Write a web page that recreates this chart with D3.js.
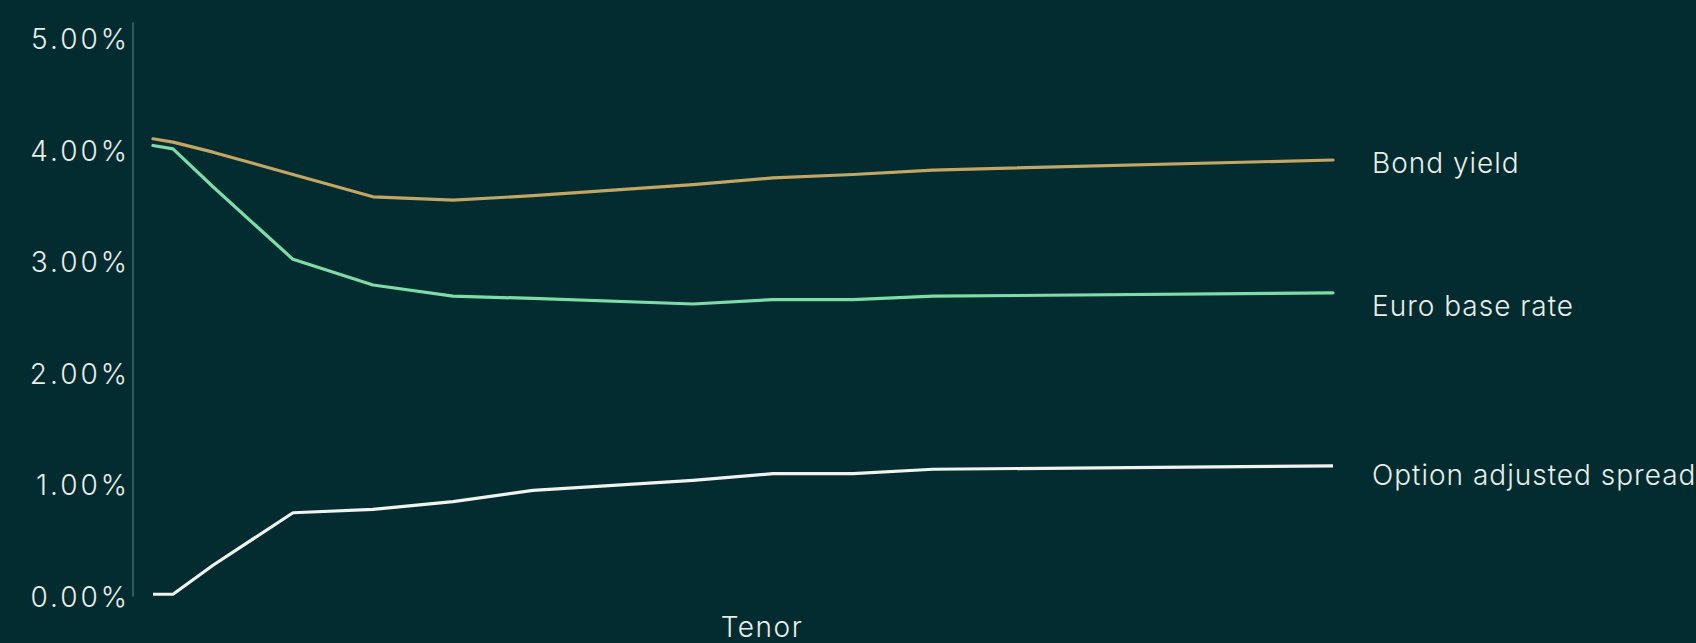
<!DOCTYPE html>
<html>
<head>
<meta charset="utf-8">
<script src="https://cdn.jsdelivr.net/npm/d3@7"></script>
<style>
  html, body { margin: 0; padding: 0; background: #022c2f; }
  svg { display: block; }
  text { font-family: Inter, "Open Sans", sans-serif; font-weight: 300; fill: #e9eee9; }
</style>
</head>
<body>
<svg id="chart" width="1696" height="643"></svg>
<script>
// Tenor in years
const tenors = [0.5, 1, 2, 4, 6, 8, 10, 14, 16, 18, 20, 30];

// Rates in percent
const bondYield = [4.10, 4.07, 3.98, 3.78, 3.58, 3.55, 3.59, 3.69, 3.75, 3.78, 3.82, 3.91];
const euroBaseRate = [4.04, 4.01, 3.67, 3.02, 2.79, 2.69, 2.67, 2.62, 2.66, 2.66, 2.69, 2.72];
const optionAdjustedSpread = [0.02, 0.02, 0.28, 0.75, 0.78, 0.85, 0.95, 1.04, 1.10, 1.10, 1.14, 1.17];

const seriesNames = ["Bond yield", "Euro base rate", "Option adjusted spread"];
const yTicks = [0, 1, 2, 3, 4, 5];
const xAxisTitle = "Tenor";

const series = [
  { name: seriesNames[0], values: bondYield, color: "#c4a664", cap: "round", labelDy: 2.5 },
  { name: seriesNames[1], values: euroBaseRate, color: "#7ddca8", cap: "round", labelDy: 13.5 },
  { name: seriesNames[2], values: optionAdjustedSpread, color: "#f1f4ee", cap: "butt", labelDy: 9 }
];

const svg = d3.select("#chart");

const x = d3.scaleLinear().domain([0, 30]).range([133, 1333]);
const y = d3.scaleLinear().domain([0, 5]).range([596.5, 38.3]);

// Y axis: labels only, with a separate vertical rule
const yAxis = d3.axisLeft(y)
  .tickValues(yTicks)
  .tickSize(0)
  .tickPadding(3)
  .tickFormat(d => d3.format(".2f")(d) + "%");

const gy = svg.append("g")
  .attr("transform", `translate(${x(0)},0)`)
  .call(yAxis);
gy.select(".domain").remove();
gy.selectAll("text")
  .attr("font-family", null)
  .attr("fill", null)
  .style("font-size", "28px")
  .style("letter-spacing", "3px")
  .attr("dy", "0.36em");

svg.append("line")
  .attr("x1", x(0)).attr("x2", x(0))
  .attr("y1", y(5) - 16).attr("y2", y(0))
  .attr("stroke", "#466a6b")
  .attr("stroke-width", 1.5);

// Lines
const line = d3.line()
  .x((d, i) => x(tenors[i]))
  .y(d => y(d));

svg.append("g")
  .selectAll("path")
  .data(series)
  .join("path")
  .attr("d", d => line(d.values))
  .attr("fill", "none")
  .attr("stroke", d => d.color)
  .attr("stroke-width", 3.2)
  .attr("stroke-linejoin", "round")
  .attr("stroke-linecap", d => d.cap);

// Series labels at the line ends
svg.append("g")
  .selectAll("text")
  .data(series)
  .join("text")
  .attr("x", x(tenors[tenors.length - 1]) + 39)
  .attr("y", d => y(d.values[d.values.length - 1]) + d.labelDy)
  .attr("dy", "0.36em")
  .style("font-size", "28px")
  .style("letter-spacing", "1px")
  .text(d => d.name);

// X axis title
svg.append("text")
  .attr("x", 762)
  .attr("y", 637)
  .attr("text-anchor", "middle")
  .style("font-size", "28px")
  .style("letter-spacing", "1.5px")
  .text(xAxisTitle);
</script>
</body>
</html>
